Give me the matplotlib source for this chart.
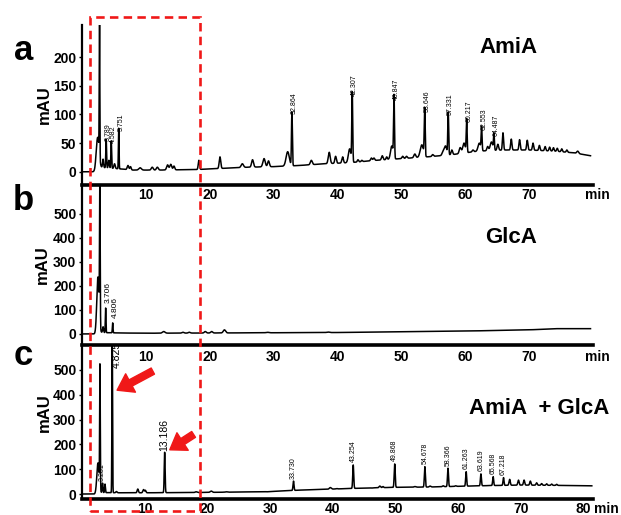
import numpy as np
import matplotlib
matplotlib.use("Agg")
import matplotlib.pyplot as plt
from matplotlib.transforms import blended_transform_factory
from matplotlib.patches import Rectangle

plt.rcParams["font.family"] = ["Liberation Sans", "DejaVu Sans"]

# ---- chromatogram a: AmiA -------------------------------------------------
# peak table: retention time (min), apex height (mAU), width (sigma, min)
A_TIMES = [2.45, 2.75, 3.3, 3.789, 4.2, 4.582, 5.1, 5.751, 7.2, 7.6, 9.1, 11.0,
           11.8, 13.4, 13.9, 14.4, 18.3, 21.6, 25.1, 26.7, 28.5, 29.2, 32.2,
           32.864, 35.9, 38.7, 39.7, 40.8, 41.9, 42.307, 43.2, 43.8, 45.3, 45.7,
           47.0, 47.7, 48.5, 48.847, 50.2, 50.8, 52.1, 53.2, 53.646, 54.9, 56.5,
           56.9, 57.331, 57.9, 59.2, 59.8, 60.217, 61.2, 62.2, 62.553, 63.5,
           64.1, 64.487, 65.1, 65.9, 67.2, 68.5, 69.7, 70.6, 71.6, 72.5, 73.2,
           73.8, 74.4, 75.1, 75.9, 77.6]
A_HEIGHTS = [60, 262, 22, 57, 20, 54, 14, 76, 11, 9, 7, 8,
             8, 12, 13, 10, 20, 26, 14, 21, 23, 19, 35,
             104, 20, 34, 27, 26, 40, 137, 21, 20, 24, 24,
             28, 26, 45, 130, 27, 27, 31, 47, 108, 30, 34,
             45, 103, 38, 42, 50, 91, 38, 50, 77, 44,
             52, 66, 48, 68, 57, 56, 55, 50, 46, 44, 43,
             42, 41, 40, 38, 36]
A_WIDTHS = [0.22, 0.045, 0.08, 0.06, 0.08, 0.06, 0.1, 0.05, 0.12, 0.1, 0.2, 0.15,
            0.15, 0.15, 0.15, 0.12, 0.1, 0.12, 0.18, 0.15, 0.18, 0.14, 0.25,
            0.07, 0.15, 0.15, 0.12, 0.12, 0.2, 0.07, 0.1, 0.1, 0.12, 0.12,
            0.12, 0.1, 0.2, 0.07, 0.12, 0.12, 0.15, 0.25, 0.07, 0.12, 0.15,
            0.2, 0.07, 0.12, 0.15, 0.2, 0.07, 0.12, 0.2, 0.07, 0.12,
            0.2, 0.07, 0.12, 0.09, 0.1, 0.1, 0.1, 0.1, 0.1, 0.1, 0.1,
            0.1, 0.1, 0.1, 0.1, 0.15]
A_BASE_T = [0, 2.0, 2.6, 6.0, 8, 12, 18, 22, 26, 30, 34, 38, 42, 46, 50, 54, 58,
            62, 66, 70, 74, 77, 79.6]
A_BASE_V = [0, 0, 8, 5, 3, 3, 4, 6, 8, 9, 11, 14, 16, 20, 23, 26, 30,
            36, 38, 38, 36, 33, 28]
A_LABELED = [3.789, 4.582, 5.751, 32.864, 42.307, 48.847, 53.646, 57.331,
             60.217, 62.553, 64.487]

# ---- chromatogram b: GlcA -------------------------------------------------
B_TIMES = [2.5, 2.8, 3.3, 3.706, 4.806, 12.8, 15.8, 16.8, 19.3, 20.3, 22.3,
           29.0, 38.5]
B_HEIGHTS = [237, 610, 30, 108, 46, 10, 7, 7, 10, 10, 17, 7, 8]
B_WIDTHS = [0.18, 0.05, 0.08, 0.05, 0.05, 0.2, 0.15, 0.15, 0.15, 0.15, 0.18,
            0.2, 0.2]
B_BASE_T = [0, 2.0, 2.6, 6, 10, 20, 30, 40, 50, 60, 70, 74, 79.6]
B_BASE_V = [0, 0, 6, 4, 3, 4, 5, 6, 9, 12, 17, 22, 22]
B_LABELED = [3.706, 4.806]

# ---- chromatogram c: AmiA + GlcA -------------------------------------------
C_TIMES = [2.55, 2.87, 3.281, 3.67, 4.825, 5.5, 8.9, 9.8, 10.1, 13.186, 18.2,
           20.6, 23.0, 29.5, 33.730, 39.6, 40.6, 43.254, 46.2, 47.5, 48.0,
           49.868, 51.2, 53.1, 54.678, 55.5, 57.6, 58.366, 59.6, 61.263,
           63.619, 65.568, 67.218, 68.2, 69.6, 70.5, 71.5, 72.5, 73.3, 74.1,
           74.9, 75.7]
C_HEIGHTS = [125, 500, 44, 40, 650, 10, 20, 18, 15, 168, 9,
             12, 9, 9, 52, 26, 22, 117, 24, 32, 30,
             121, 27, 30, 110, 32, 33, 104, 33, 90,
             81, 70, 66, 59, 56, 56, 52, 45, 42, 41,
             40, 39]
C_WIDTHS = [0.18, 0.05, 0.06, 0.06, 0.05, 0.1, 0.1, 0.1, 0.1, 0.07, 0.15,
            0.15, 0.15, 0.2, 0.08, 0.15, 0.12, 0.08, 0.12, 0.12, 0.1,
            0.08, 0.12, 0.15, 0.08, 0.12, 0.12, 0.08, 0.12, 0.08,
            0.08, 0.08, 0.08, 0.1, 0.1, 0.1, 0.1, 0.1, 0.1, 0.1,
            0.1, 0.1]
C_BASE_T = [0, 2.0, 2.6, 6, 10, 18, 25, 30, 35, 40, 45, 50, 55, 60, 65, 70, 75,
            81.3]
C_BASE_V = [0, 0, 6, 5, 5, 6, 8, 10, 16, 20, 24, 27, 28, 31, 34, 36, 35, 33]
C_LABELED_SMALL = [3.281, 33.730, 43.254, 49.868, 54.678, 58.366, 61.263,
                   63.619, 65.568, 67.218]
C_LABELED_BIG = [4.825, 13.186]

HIGHLIGHT_MIN = (1.25, 18.5)   # region boxed in red across the three runs


def build_trace(times, heights, widths, base_t, base_v):
    t = np.linspace(0, base_t[-1], 16001)
    y = np.interp(t, base_t, base_v)
    for pt, ph, pw in zip(times, heights, widths):
        amp = ph - np.interp(pt, base_t, base_v)
        y = y + amp * np.exp(-0.5 * ((t - pt) / pw) ** 2)
    return t, y


def style_axis(ax, ylim, yticks, xmax, xticks, xpad):
    ax.set_xlim(0, xmax)
    ax.set_ylim(*ylim)
    ax.set_yticks(yticks)
    ax.set_xticks(xticks)
    for side in ("top", "right"):
        ax.spines[side].set_visible(False)
    ax.spines["left"].set_linewidth(1.6)
    ax.spines["bottom"].set_linewidth(2.6)
    ax.tick_params(axis="x", length=0, pad=xpad, labelsize=10)
    ax.tick_params(axis="y", length=2, width=1, pad=2, labelsize=10)
    for lab in ax.get_xticklabels() + ax.get_yticklabels():
        lab.set_fontweight("bold")
    ax.set_ylabel("mAU", fontsize=12, fontweight="bold")
    ax.patch.set_alpha(0)


def label_peaks(ax, times, heights, labeled, size, dx, dy):
    for lt in labeled:
        h = heights[times.index(lt)]
        ax.text(lt + dx, h + dy, f"{lt:.3f}", rotation=90, ha="center",
                va="bottom", fontsize=size)


fig = plt.figure(figsize=(6.21, 5.15), dpi=100)
left, width = 0.132, 0.823
ax_a = fig.add_axes([left, 0.6408, width, 0.3107])
ax_b = fig.add_axes([left, 0.3301, width, 0.3107])
ax_c = fig.add_axes([left, 0.0311, width, 0.2990])

panels = [
    (ax_a, A_TIMES, A_HEIGHTS, A_WIDTHS, A_BASE_T, A_BASE_V),
    (ax_b, B_TIMES, B_HEIGHTS, B_WIDTHS, B_BASE_T, B_BASE_V),
    (ax_c, C_TIMES, C_HEIGHTS, C_WIDTHS, C_BASE_T, C_BASE_V),
]
for ax, tt, hh, ww, bt, bv in panels:
    t, y = build_trace(tt, hh, ww, bt, bv)
    ax.plot(t, y, color="black", lw=1.1)

style_axis(ax_a, (-23, 256), [0, 50, 100, 150, 200], 80, range(10, 80, 10), 2.5)
style_axis(ax_b, (-46, 620), range(0, 600, 100), 80, range(10, 80, 10), 3.5)
style_axis(ax_c, (-20, 600), range(0, 600, 100), 81.5, range(10, 90, 10), 2.0)

ax_a.yaxis.set_label_coords(-0.058, 0.5)
ax_b.yaxis.set_label_coords(-0.062, 0.5)
ax_c.yaxis.set_label_coords(-0.058, 0.56)

# "min" unit at the end of each time axis, level with the tick labels
for ax, xpos in ((ax_a, 80.75), (ax_b, 80.75), (ax_c, 83.6)):
    lab = ax.get_xticklabels()[-1]
    tr = blended_transform_factory(ax.transData, lab.get_transform())
    ax.text(xpos, 0, "min", transform=tr, ha="center",
            va=lab.get_verticalalignment(), fontsize=10, fontweight="bold")

# retention time labels
label_peaks(ax_a, A_TIMES, A_HEIGHTS, A_LABELED, 5, 0.35, -4)
label_peaks(ax_b, B_TIMES, B_HEIGHTS, B_LABELED, 6, 0.4, 20)
label_peaks(ax_c, C_TIMES, C_HEIGHTS, C_LABELED_SMALL, 5, 0.0, 10)
ax_c.text(C_LABELED_BIG[0] + 0.75, 508, f"{C_LABELED_BIG[0]:.3f}", rotation=90,
          ha="center", va="bottom", fontsize=7.5)
ax_c.text(C_LABELED_BIG[1] - 0.1, 175, f"{C_LABELED_BIG[1]:.3f}", rotation=90,
          ha="center", va="bottom", fontsize=7.5)

# sample names and panel letters
ax_a.text(0.835, 0.86, "AmiA", transform=ax_a.transAxes, ha="center",
          va="center", fontsize=16, fontweight="bold")
ax_b.text(0.84, 0.67, "GlcA", transform=ax_b.transAxes, ha="center",
          va="center", fontsize=16, fontweight="bold")
ax_c.text(0.895, 0.59, "AmiA  + GlcA", transform=ax_c.transAxes, ha="center",
          va="center", fontsize=16, fontweight="bold")
for ax, letter, yy in ((ax_a, "a", 0.84), (ax_b, "b", 0.9), (ax_c, "c", 0.93)):
    ax.text(-0.115, yy, letter, transform=ax.transAxes, ha="center",
            va="center", fontsize=25, fontweight="bold")

# red arrows pointing at the two new products in c
arrow_kw = dict(facecolor="#f01818", edgecolor="#f01818", width=5,
                headwidth=15, headlength=11, shrink=0)
ax_c.annotate("", xy=(5.6, 418), xytext=(11.3, 495), arrowprops=arrow_kw)
ax_c.annotate("", xy=(14.0, 178), xytext=(17.8, 240), arrowprops=arrow_kw)

# dashed box spanning all three panels over the early-eluting region
box_tr = blended_transform_factory(ax_a.transData, fig.transFigure)
box = Rectangle((HIGHLIGHT_MIN[0], 0.008), HIGHLIGHT_MIN[1] - HIGHLIGHT_MIN[0],
                0.959, transform=box_tr, fill=False, edgecolor="#f01818",
                lw=1.9, linestyle=(0, (3.2, 2.0)), clip_on=False, zorder=10)
fig.add_artist(box)

fig.savefig("out.png", dpi=100)
